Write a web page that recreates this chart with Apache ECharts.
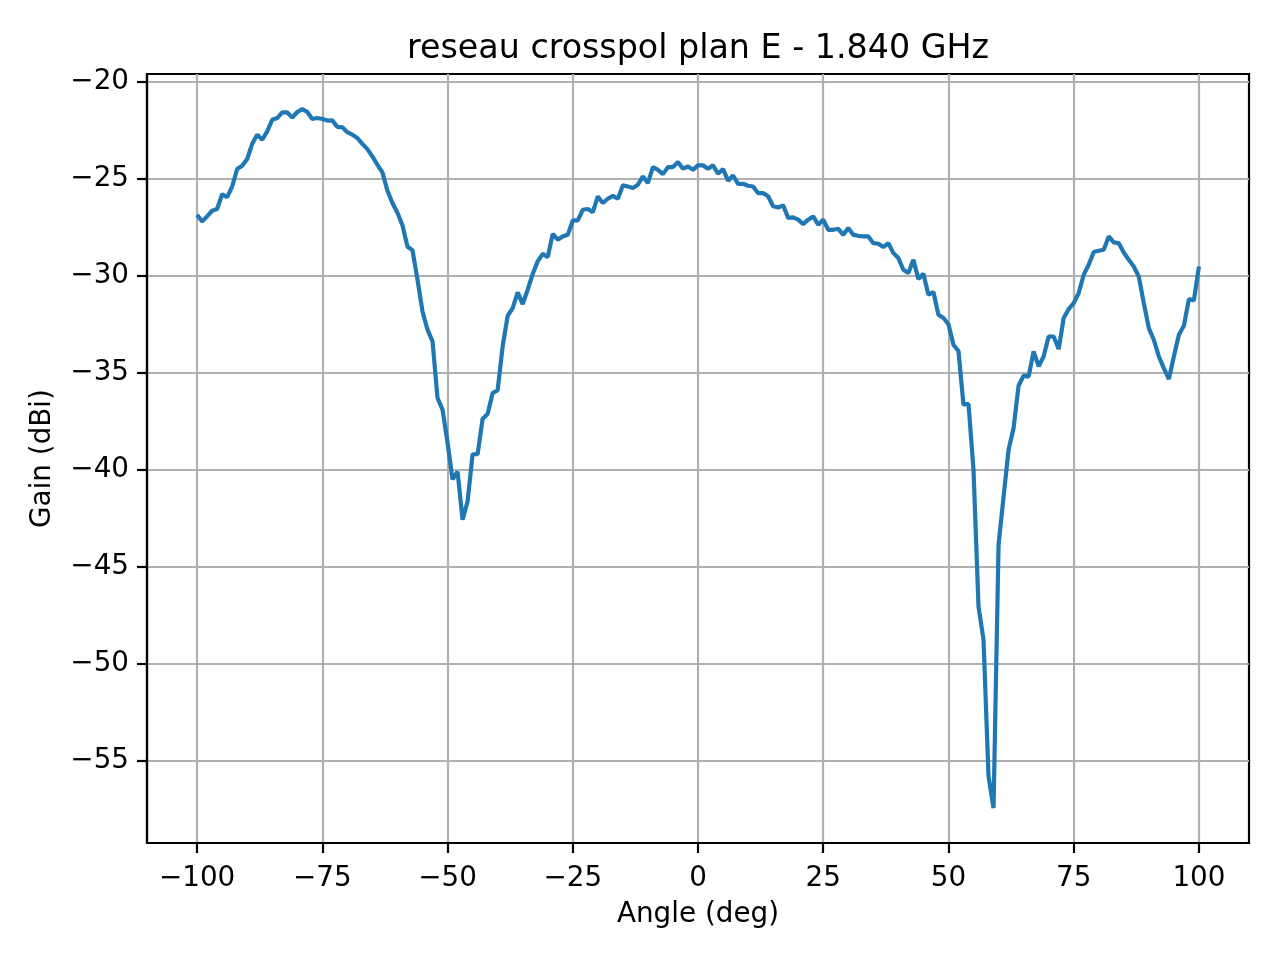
<!DOCTYPE html>
<html>
<head>
<meta charset="utf-8">
<script src="https://cdn.jsdelivr.net/npm/echarts@6.0.0/dist/echarts.min.js"></script>
<style>
  html, body { margin: 0; padding: 0; background: #fff; }
  #chart { width: 1280px; height: 960px; }
</style>
</head>
<body>
<div id="chart"></div>
<script>
// angles (deg), one point per degree
const angles = [
  -100, -99, -98, -97, -96, -95, -94, -93, -92, -91,
  -90, -89, -88, -87, -86, -85, -84, -83, -82, -81,
  -80, -79, -78, -77, -76, -75, -74, -73, -72, -71,
  -70, -69, -68, -67, -66, -65, -64, -63, -62, -61,
  -60, -59, -58, -57, -56, -55, -54, -53, -52, -51,
  -50, -49, -48, -47, -46, -45, -44, -43, -42, -41,
  -40, -39, -38, -37, -36, -35, -34, -33, -32, -31,
  -30, -29, -28, -27, -26, -25, -24, -23, -22, -21,
  -20, -19, -18, -17, -16, -15, -14, -13, -12, -11,
  -10, -9, -8, -7, -6, -5, -4, -3, -2, -1,
  0, 1, 2, 3, 4, 5, 6, 7, 8, 9,
  10, 11, 12, 13, 14, 15, 16, 17, 18, 19,
  20, 21, 22, 23, 24, 25, 26, 27, 28, 29,
  30, 31, 32, 33, 34, 35, 36, 37, 38, 39,
  40, 41, 42, 43, 44, 45, 46, 47, 48, 49,
  50, 51, 52, 53, 54, 55, 56, 57, 58, 59,
  60, 61, 62, 63, 64, 65, 66, 67, 68, 69,
  70, 71, 72, 73, 74, 75, 76, 77, 78, 79,
  80, 81, 82, 83, 84, 85, 86, 87, 88, 89,
  90, 91, 92, 93, 94, 95, 96, 97, 98, 99,
  100
];

// gain (dBi)
const gain = [
  -26.86, -27.2, -26.94, -26.65, -26.56, -25.8, -25.95, -25.4, -24.5, -24.33,
  -23.98, -23.2, -22.73, -22.99, -22.56, -21.96, -21.87, -21.58, -21.58, -21.84,
  -21.56, -21.41, -21.56, -21.92, -21.87, -21.92, -22.0, -21.99, -22.33, -22.35,
  -22.6, -22.73, -22.9, -23.2, -23.47, -23.85, -24.28, -24.67, -25.62, -26.25,
  -26.75, -27.4, -28.5, -28.68, -30.2, -31.84, -32.78, -33.38, -36.3, -36.9,
  -38.6, -40.5, -40.1, -42.58, -41.63, -39.2, -39.2, -37.37, -37.13, -36.05,
  -35.9, -33.64, -32.06, -31.67, -30.86, -31.46, -30.72, -29.91, -29.26, -28.87,
  -29.04, -27.84, -28.14, -27.97, -27.89, -27.15, -27.15, -26.6, -26.56, -26.72,
  -25.91, -26.25, -26.03, -25.88, -26.03, -25.34, -25.4, -25.48, -25.31, -24.88,
  -25.22, -24.4, -24.54, -24.76, -24.4, -24.4, -24.14, -24.48, -24.37, -24.54,
  -24.31, -24.31, -24.48, -24.31, -24.74, -24.5, -25.1, -24.83, -25.26, -25.26,
  -25.36, -25.4, -25.74, -25.74, -25.9, -26.42, -26.48, -26.37, -27.02, -26.99,
  -27.11, -27.34, -27.11, -26.94, -27.37, -27.11, -27.63, -27.63, -27.58, -27.89,
  -27.54, -27.89, -27.94, -27.97, -27.97, -28.32, -28.35, -28.52, -28.32, -28.83,
  -29.09, -29.69, -29.86, -29.18, -30.17, -29.9, -30.98, -30.84, -32.01, -32.18,
  -32.5, -33.56, -33.88, -36.65, -36.6, -40.0, -47.05, -48.76, -55.8, -57.44,
  -43.87, -41.4, -38.97, -37.85, -35.67, -35.15, -35.2, -33.9, -34.67, -34.16,
  -33.13, -33.13, -33.78, -32.18, -31.72, -31.41, -30.89, -29.95, -29.43, -28.78,
  -28.71, -28.66, -27.97, -28.28, -28.32, -28.8, -29.18, -29.52, -30.04, -31.41,
  -32.7, -33.3, -34.16, -34.76, -35.33, -34.16, -33.04, -32.58, -31.2, -31.27,
  -29.52
];

const xTicks = [-100, -75, -50, -25, 0, 25, 50, 75, 100];
const yTicks = [-55, -50, -45, -40, -35, -30, -25, -20];

const FONT = 'DejaVu Sans';
const fmt = v => String(v).replace('-', '\u2212');

const chart = echarts.init(document.getElementById('chart'));

const axisCommon = {
  axisLine: { show: true, onZero: false, lineStyle: { color: '#000', width: 2.2 } },
  axisTick: { show: true, length: 10, lineStyle: { color: '#000', width: 2.2 } },
  splitLine: { show: true, lineStyle: { color: '#b0b0b0', width: 2.2 } },
  nameTextStyle: { fontFamily: FONT, fontSize: 27.8, color: '#000' }
};

chart.setOption({
  animation: false,
  backgroundColor: '#fff',
  title: {
    text: 'reseau crosspol plan E - 1.840 GHz',
    left: 698,
    top: 33,
    textAlign: 'center',
    padding: 0,
    textStyle: { fontFamily: FONT, fontSize: 33.3, fontWeight: 'normal', color: '#000' }
  },
  grid: {
    left: 147, right: 31, top: 74, bottom: 117,
    show: true, borderColor: '#000', borderWidth: 2.2, backgroundColor: 'transparent'
  },
  xAxis: {
    ...axisCommon,
    type: 'value',
    min: -110,
    max: 110,
    name: 'Angle (deg)',
    nameLocation: 'middle',
    nameGap: 58,
    axisTick: { ...axisCommon.axisTick, customValues: xTicks },
    axisLabel: {
      customValues: xTicks, formatter: fmt, margin: 22,
      fontFamily: FONT, fontSize: 27.8, color: '#000'
    }
  },
  yAxis: {
    ...axisCommon,
    type: 'value',
    min: -59.24,
    max: -19.6,
    name: 'Gain (dBi)',
    nameLocation: 'middle',
    nameGap: 90,
    axisTick: { ...axisCommon.axisTick, customValues: yTicks },
    axisLabel: {
      customValues: yTicks, formatter: fmt, margin: 18,
      fontFamily: FONT, fontSize: 27.8, color: '#000'
    }
  },
  series: [{
    type: 'line',
    data: angles.map((a, i) => [a, gain[i]]),
    showSymbol: false,
    symbol: 'none',
    lineStyle: { color: '#1f77b4', width: 4.2 },
    itemStyle: { color: '#1f77b4' },
    clip: true
  }]
});
</script>
</body>
</html>
